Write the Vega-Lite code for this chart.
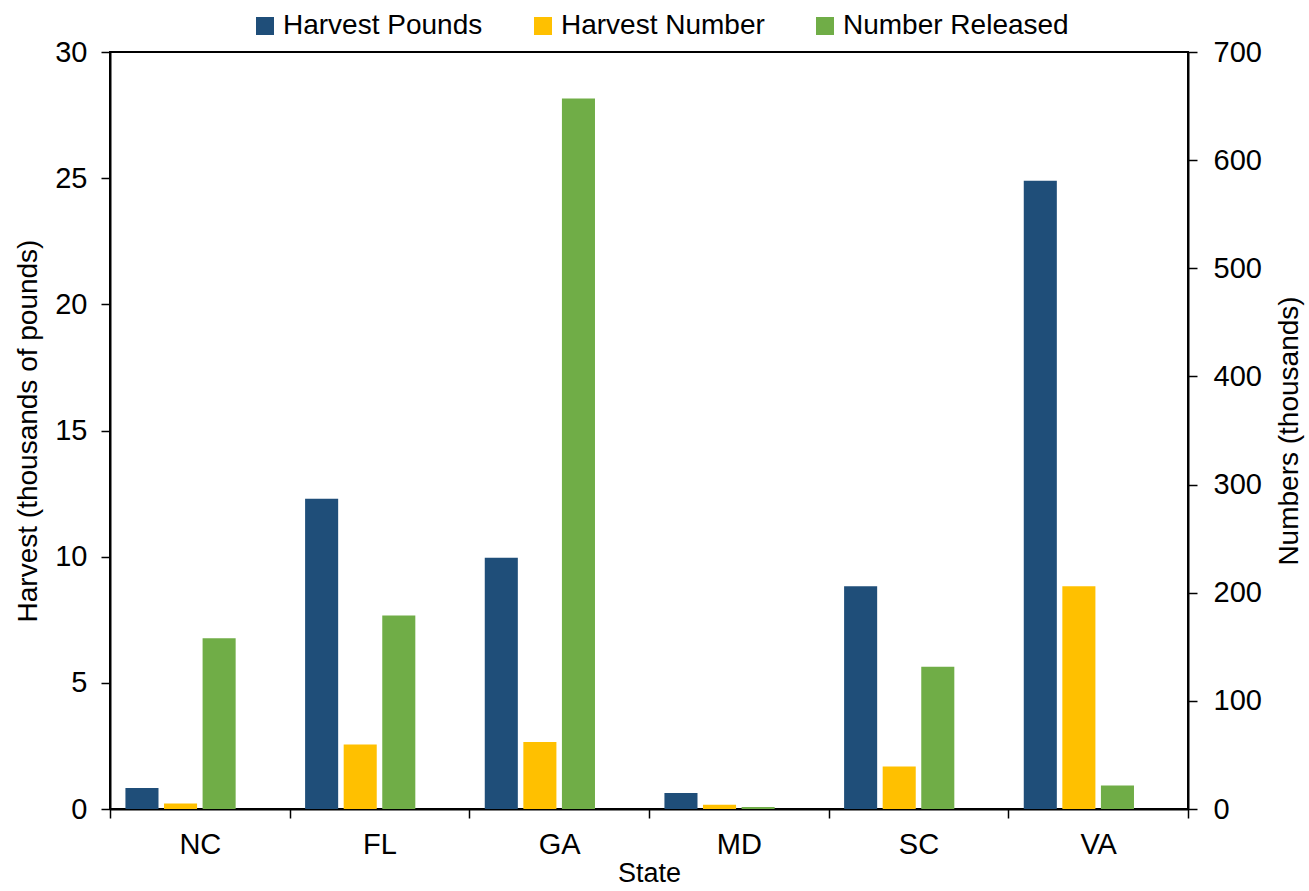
{
  "$schema": "https://vega.github.io/schema/vega-lite/v6.json",
  "width": 1078,
  "height": 757,
  "autosize": {"type": "none"},
  "padding": {"left": 110, "top": 52, "right": 121, "bottom": 82},
  "background": "white",
  "config": {
    "font": "Liberation Sans",
    "view": {"stroke": "black", "strokeWidth": 2},
    "axis": {
      "labelFont": "Liberation Sans",
      "titleFont": "Liberation Sans",
      "labelFontSize": 29,
      "titleFontSize": 28,
      "labelColor": "black",
      "titleColor": "black",
      "titleFontWeight": "normal",
      "domainColor": "black",
      "domainWidth": 2,
      "tickColor": "black",
      "tickWidth": 1.5,
      "tickSize": 9,
      "grid": false
    },
    "legend": {"labelFont": "Liberation Sans"}
  },
  "data": {
    "values": [
      {"state": "NC", "series": "Harvest Pounds", "value": 0.83},
      {"state": "NC", "series": "Harvest Number", "value": 5.2},
      {"state": "NC", "series": "Number Released", "value": 158},
      {"state": "FL", "series": "Harvest Pounds", "value": 12.3},
      {"state": "FL", "series": "Harvest Number", "value": 59.7},
      {"state": "FL", "series": "Number Released", "value": 179},
      {"state": "GA", "series": "Harvest Pounds", "value": 9.96},
      {"state": "GA", "series": "Harvest Number", "value": 62},
      {"state": "GA", "series": "Number Released", "value": 657},
      {"state": "MD", "series": "Harvest Pounds", "value": 0.63},
      {"state": "MD", "series": "Harvest Number", "value": 4},
      {"state": "MD", "series": "Number Released", "value": 1.8},
      {"state": "SC", "series": "Harvest Pounds", "value": 8.83},
      {"state": "SC", "series": "Harvest Number", "value": 39.3},
      {"state": "SC", "series": "Number Released", "value": 131.6},
      {"state": "VA", "series": "Harvest Pounds", "value": 24.9},
      {"state": "VA", "series": "Harvest Number", "value": 206},
      {"state": "VA", "series": "Number Released", "value": 21.8}
    ]
  },
  "encoding": {
    "x": {
      "field": "state",
      "type": "nominal",
      "sort": ["NC", "FL", "GA", "MD", "SC", "VA"],
      "scale": {"paddingInner": 0, "paddingOuter": 0},
      "axis": {
        "title": "State",
        "labelAngle": 0,
        "tickBand": "extent",
        "labelPadding": 12,
        "titlePadding": 1,
        "titleFontSize": 27
      }
    },
    "xOffset": {
      "field": "series",
      "type": "nominal",
      "scale": {
        "domain": ["Harvest Pounds", "Harvest Number", "Number Released", "gap"],
        "paddingInner": 0.143,
        "paddingOuter": 0.4
      }
    },
    "color": {
      "field": "series",
      "type": "nominal",
      "scale": {
        "domain": ["Harvest Pounds", "Harvest Number", "Number Released"],
        "range": ["#1F4E79", "#FFC000", "#70AD47"]
      },
      "legend": {
        "orient": "none",
        "legendX": 141,
        "legendY": -40,
        "direction": "horizontal",
        "title": null,
        "symbolType": "square",
        "symbolSize": 324,
        "symbolStrokeWidth": 0,
        "labelFontSize": 28,
        "labelColor": "black",
        "labelLimit": 0,
        "labelOffset": 4,
        "columnPadding": 46
      }
    }
  },
  "layer": [
    {
      "transform": [{"filter": "datum.series === 'Harvest Pounds'"}],
      "mark": {"type": "bar"},
      "encoding": {
        "y": {
          "field": "value",
          "type": "quantitative",
          "scale": {"domain": [0, 30], "nice": false},
          "axis": {
            "orient": "left",
            "title": "Harvest (thousands of pounds)",
            "values": [0, 5, 10, 15, 20, 25, 30],
            "labelPadding": 14,
            "titlePadding": 12
          }
        }
      }
    },
    {
      "transform": [{"filter": "datum.series !== 'Harvest Pounds'"}],
      "mark": {"type": "bar"},
      "encoding": {
        "y": {
          "field": "value",
          "type": "quantitative",
          "scale": {"domain": [0, 700], "nice": false},
          "axis": {
            "orient": "right",
            "title": "Numbers (thousands)",
            "titleAngle": 270,
            "titleBaseline": "top",
            "values": [0, 100, 200, 300, 400, 500, 600, 700],
            "labelPadding": 16,
            "titlePadding": 14
          }
        }
      }
    }
  ],
  "resolve": {"scale": {"y": "independent"}, "axis": {"y": "independent"}}
}
